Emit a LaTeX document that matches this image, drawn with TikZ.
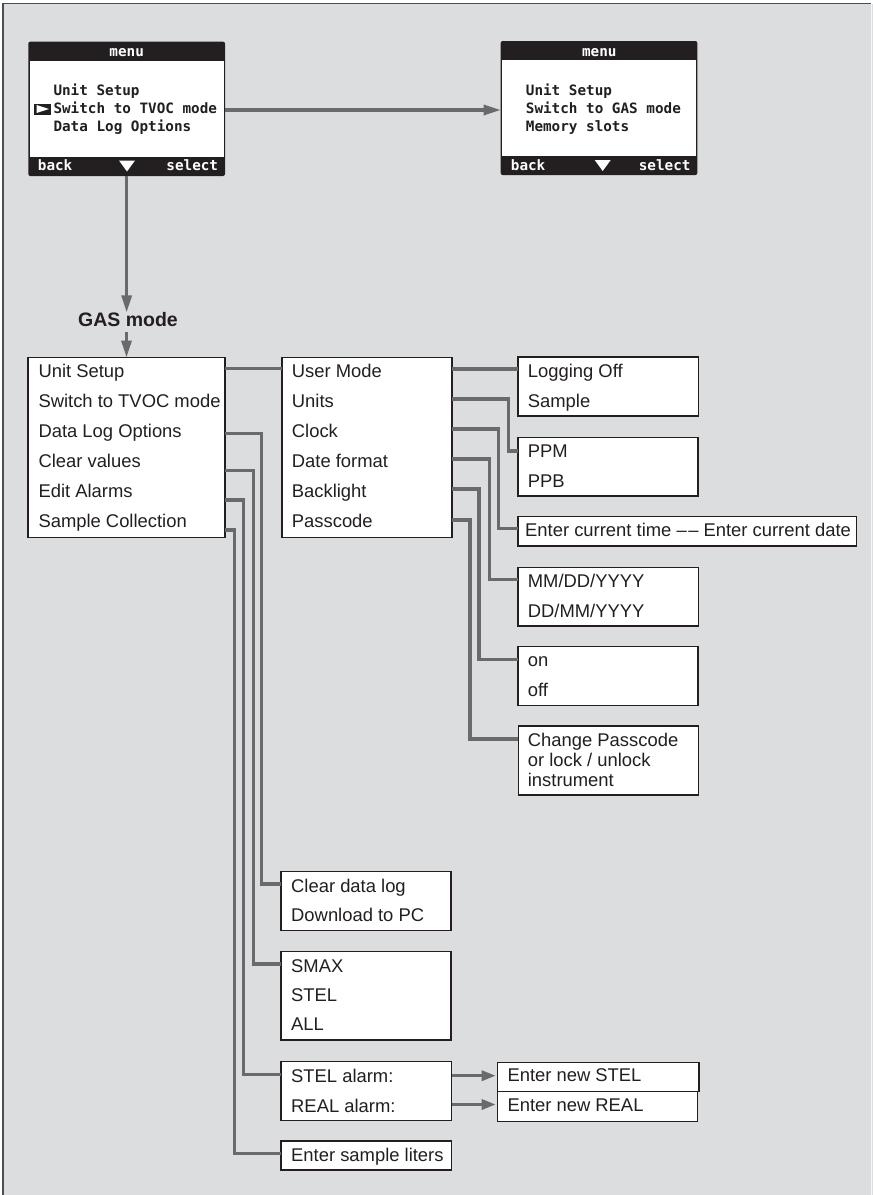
\documentclass[tikz,border=0pt]{standalone}
\usepackage{fontspec}
\setmainfont{Liberation Sans}
\newfontfamily\lcdfont{DejaVu Sans Mono}
\usetikzlibrary{arrows.meta,calc}
\definecolor{bg}{RGB}{220,221,223}
\definecolor{wirec}{RGB}{105,106,109}
\definecolor{ink}{RGB}{35,31,32}
\begin{document}
\begin{tikzpicture}[x=1pt,y=-1pt,
  box/.style={draw=ink,line width=1.2pt,fill=white,anchor=north west,inner sep=0pt,outer sep=0pt},
  row/.style={anchor=base west,inner sep=0pt,text=ink,font=\fontsize{18.4}{20}\selectfont},
  screen/.style={fill=ink,rounded corners=2pt,anchor=north west,inner sep=0pt,outer sep=0pt},
  lcd/.style={inner sep=0pt,font=\lcdfont\bfseries\fontsize{14.3}{16}\selectfont},
  wire/.style={draw=wirec,line width=3.2pt},
  arr/.style={draw=wirec,line width=3.2pt,-{Triangle[length=17pt,width=10pt]}},
  sarr/.style={draw=wirec,line width=3.2pt,-{Triangle[length=14pt,width=10pt]},shorten >=2pt}
]
\useasboundingbox (0,0) rectangle (873,1195);
% background frame
\fill[bg] (3,3.5) rectangle (873,1195);
\draw[wirec!60!ink,line width=1.3pt] (3,1195) -- (3,3.5) -- (871,3.5);
\draw[white!70!bg,line width=1pt] (871,3.5) -- (871,1195);

% ---------- left screen ----------
\node[screen,minimum width=196.7,minimum height=134.3] (scrL) at (28.3,41.7) {};
\fill[white] ($(scrL.north west)+(1.5,19.3)$) rectangle ($(scrL.south east)+(-1.5,-19.3)$);
\node[lcd,text=white,anchor=base] (mL) at (126.7,56.5) {menu};
\node[lcd,text=ink,anchor=base west] (lA) at (53.3,95.7) {Unit Setup};
\node[lcd,text=ink,anchor=base west] (lB) at (53.3,113.5) {Switch to TVOC mode};
\node[lcd,text=ink,anchor=base west] (lC) at (53.3,131.5) {Data Log Options};
\fill[ink] (34,103.5) rectangle (50.5,114.5);
\fill[white] (36.5,105) -- (49,109) -- (36.5,113) -- cycle;
\node[lcd,text=white,anchor=base west] (bL) at (37.7,170.5) {back};
\node[lcd,text=white,anchor=base east] (sL) at (218.3,170.5) {select};
\fill[white] (119,160.5) -- (135,160.5) -- (127,171.5) -- cycle;

% ---------- right screen ----------
\node[screen,minimum width=196.6,minimum height=134] (scrR) at (500.7,41) {};
\fill[white] ($(scrR.north west)+(1.5,18.6)$) rectangle ($(scrR.south east)+(-1.5,-19)$);
\node[lcd,text=white,anchor=base] (mR) at (599.3,56) {menu};
\node[lcd,text=ink,anchor=base west] (rA) at (525.7,95.7) {Unit Setup};
\node[lcd,text=ink,anchor=base west] (rB) at (525.7,113.5) {Switch to GAS mode};
\node[lcd,text=ink,anchor=base west] (rC) at (525.7,131.5) {Memory slots};
\node[lcd,text=white,anchor=base west] (bR) at (510.7,170) {back};
\node[lcd,text=white,anchor=base east] (sR) at (690.7,170) {select};
\fill[white] (594.7,160) -- (610.7,160) -- (602.7,171) -- cycle;

% top arrow
\draw[arr] (scrL.east |- 0,110) -- (scrR.west |- 0,110);

% GAS mode label
\node[inner sep=0pt,anchor=base,text=ink,font=\bfseries\fontsize{19.5}{20}\selectfont] (gl) at (128,326.7) {GAS mode};

% ---------- boxes ----------
\node[box,minimum width=197,minimum height=180] (gas) at (28,357.5) {};
\node[box,minimum width=170,minimum height=180] (mid) at (282,357.5) {};
\node[box,minimum width=180.5,minimum height=59] (log) at (518,357) {};
\node[box,minimum width=180,minimum height=58.3] (ppm) at (518,437.7) {};
\node[box,minimum width=338.7,minimum height=29.3] (clk) at (518,516.7) {};
\node[box,minimum width=180.3,minimum height=58.3] (dat) at (518,567.7) {};
\node[box,minimum width=180,minimum height=59] (bkl) at (518,646.7) {};
\node[box,minimum width=180,minimum height=69] (pas) at (518.3,726) {};
\node[box,minimum width=170,minimum height=59] (cdl) at (281,871.7) {};
\node[box,minimum width=170,minimum height=88.3] (smx) at (281,951.7) {};
\node[box,minimum width=170.7,minimum height=59] (sta) at (281,1061.7) {};
\node[box,minimum width=201.3,minimum height=29] (nst) at (497.7,1062.7) {};
\node[box,minimum width=199.6,minimum height=30] (nre) at (497.7,1091.7) {};
\node[box,minimum width=170.7,minimum height=29] (esl) at (281,1141) {};

% vertical arrows
\draw[arr] (scrL.south) -- (scrL.south |- gl.north);
\draw[arr,shorten <=5pt] (gas.north |- gl.south) -- (gas.north);

% ---------- row texts ----------
\node[row] (g1) at (38.3,377) {Unit Setup};
\node[row] (g2) at (38.3,407) {Switch to TVOC mode};
\node[row] (g3) at (38.3,437) {Data Log Options};
\node[row] (g4) at (38.3,467) {Clear values};
\node[row] (g5) at (38.3,497) {Edit Alarms};
\node[row] (g6) at (38.3,527) {Sample Collection};

\node[row] (m1) at (291.7,377) {User Mode};
\node[row] (m2) at (291.7,407) {Units};
\node[row] (m3) at (291.7,437) {Clock};
\node[row] (m4) at (291.7,467) {Date format};
\node[row] (m5) at (291.7,497) {Backlight};
\node[row] (m6) at (291.7,527) {Passcode};

\node[row] (lo1) at (527.7,377) {Logging Off};
\node[row] (lo2) at (527.7,407) {Sample};
\node[row] (pp1) at (527.7,457) {PPM};
\node[row] (pp2) at (527.7,487) {PPB};
\node[row] (ck1) at (525,536.5) {Enter current time –\kern1.5pt– Enter current date};
\node[row] (dt1) at (527.7,587) {MM/DD/YYYY};
\node[row] (dt2) at (527.7,617) {DD/MM/YYYY};
\node[row] (bk1) at (527.7,666) {on};
\node[row] (bk2) at (527.7,696) {off};
\node[row] (ps1) at (527.7,746.5) {Change Passcode};
\node[row] (ps2) at (527.7,766.5) {or lock / unlock};
\node[row] (ps3) at (527.7,786.5) {instrument};

\node[row] (cd1) at (291,892.5) {Clear data log};
\node[row] (cd2) at (291,921.5) {Download to PC};
\node[row] (sm1) at (291,972.5) {SMAX};
\node[row] (sm2) at (291,1001.5) {STEL};
\node[row] (sm3) at (291,1030.5) {ALL};
\node[row] (sa1) at (291,1082.5) {STEL alarm:};
\node[row] (sa2) at (291,1112.5) {REAL alarm:};
\node[row] (ns1) at (507.3,1081.5) {Enter new STEL};
\node[row] (nr1) at (507.3,1111.5) {Enter new REAL};
\node[row] (es1) at (291,1161.5) {Enter sample liters};

% ---------- connectors ----------
\draw[wire] (gas.east |- 0,368.5) -- (mid.west |- 0,368.5);
\draw[wire] (mid.east |- 0,369) -- (log.west |- 0,369);
\draw[wire] (mid.east |- 0,399) -- ++(56.5,0) |- (ppm.west |- 0,451);
\draw[wire] (mid.east |- 0,429) -- ++(46.5,0) |- (clk.west |- 0,528.5);
\draw[wire] (mid.east |- 0,459) -- ++(37.5,0) |- (dat.west |- 0,579.5);
\draw[wire] (mid.east |- 0,489) -- ++(27,0) |- (bkl.west |- 0,659.5);
\draw[wire] (mid.east |- 0,520) -- ++(18,0) |- (pas.west |- 0,739);

\draw[wire] (gas.east |- 0,433.5) -- ++(36.7,0) |- (cdl.west |- 0,884);
\draw[wire] (gas.east |- 0,470.5) -- ++(28.3,0) |- (smx.west |- 0,964);
\draw[wire] (gas.east |- 0,500) -- ++(18.3,0) |- (sta.west |- 0,1074.5);
\draw[wire] (gas.east |- 0,530) -- ++(9.3,0) |- (esl.west |- 0,1153.5);

\draw[sarr] (sta.east |- 0,1075.7) -- (nst.west |- 0,1075.7);
\draw[sarr] (sta.east |- 0,1104.5) -- (nre.west |- 0,1104.5);
\end{tikzpicture}
\end{document}
